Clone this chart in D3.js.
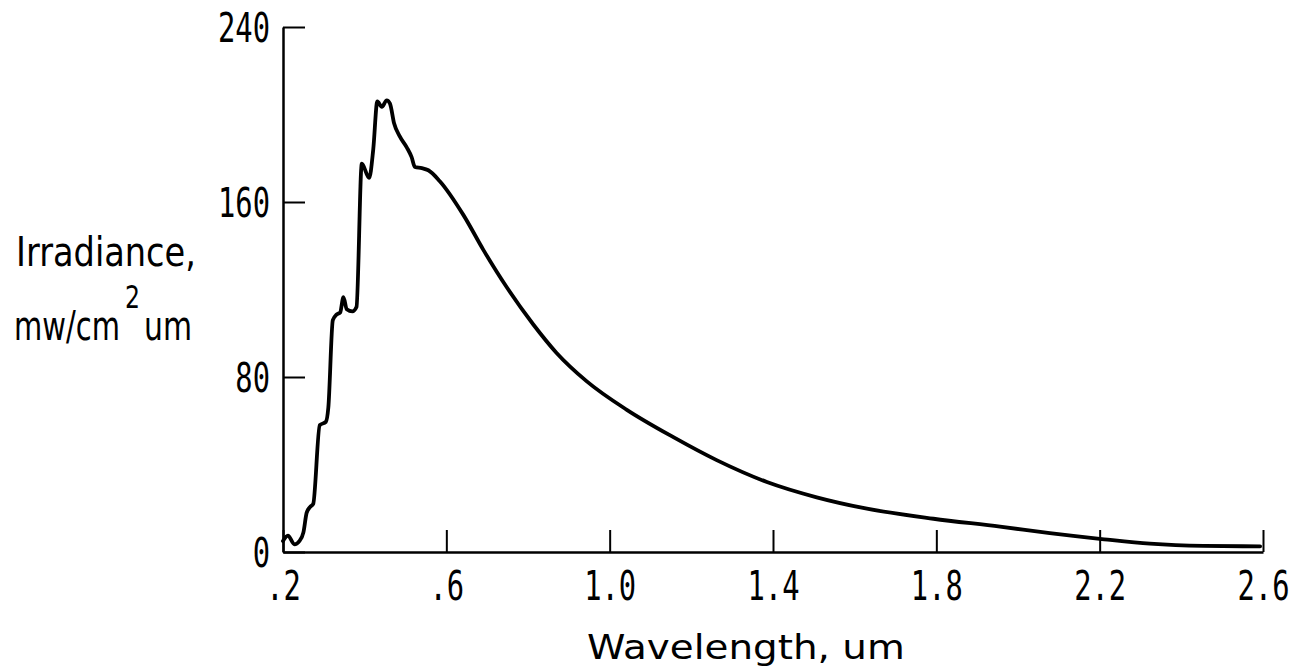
<!DOCTYPE html>
<html>
<head>
<meta charset="utf-8">
<script src="https://cdn.jsdelivr.net/npm/d3@7"></script>
<style>
  body { margin: 0; background: #fff; }
  svg { display: block; }
</style>
</head>
<body>
<div id="chart"></div>
<script>
///////////////////////////////////////////////////////////////////////////
///////////////////////////////// Data ////////////////////////////////////
///////////////////////////////////////////////////////////////////////////

// wavelength in um
var wavelength = [0.200, 0.212, 0.228, 0.240, 0.250, 0.258, 0.266, 0.274, 0.290, 0.305,
  0.311, 0.322, 0.331, 0.340, 0.348, 0.356, 0.370, 0.380, 0.393, 0.411,
  0.421, 0.431, 0.442, 0.454, 0.462, 0.472, 0.486, 0.503, 0.515, 0.523,
  0.540, 0.556, 0.584, 0.642, 0.691, 0.748, 0.813, 0.870, 0.944, 1.042,
  1.156, 1.262, 1.385, 1.507, 1.630, 1.793, 1.956, 2.078, 2.211, 2.323,
  2.454, 2.593]

// irradiance in mw/cm^2 um
var irradiance = [5, 7.5, 3.5, 5, 9, 18, 20.5, 22, 58, 59.5,
  66, 106, 108.5, 109.5, 116.5, 111, 110, 112, 177.5, 171,
  184, 206, 203.5, 206.5, 205, 196, 190, 185, 180.5, 176,
  175.5, 174.5, 169.5, 154, 138, 121, 104, 91, 78, 65,
  52.5, 42, 32, 25, 19.8, 15.2, 11.6, 8.6, 5.8, 3.8,
  2.8, 2.6]

var xTicks = [0.2, 0.6, 1.0, 1.4, 1.8, 2.2, 2.6]
var xTickLabels = [".2", ".6", "1.0", "1.4", "1.8", "2.2", "2.6"]
var yTicks = [0, 80, 160, 240]
var yTickLabels = ["0", "80", "160", "240"]

///////////////////////////////////////////////////////////////////////////
//////////////////// Set up and initiate containers ///////////////////////
///////////////////////////////////////////////////////////////////////////

var totalWidth = 1309
var totalHeight = 670

var svg = d3.select('#chart').append('svg')
  .attr('width', totalWidth)
  .attr('height', totalHeight)

svg.append('rect')
  .attr('width', totalWidth)
  .attr('height', totalHeight)
  .attr('fill', '#fff')

var numFont = "'DejaVu Sans Mono', monospace"
var textFont = "'DejaVu Sans', sans-serif"
var squeeze = 0.72 // condensed typewriter look of the numerals

///////////////////////////////////////////////////////////////////////////
///////////////////////////// Create scales ///////////////////////////////
///////////////////////////////////////////////////////////////////////////

var xScale = d3.scaleLinear()
  .domain([0.2, 2.6])
  .range([283, 1263])

var yScale = d3.scaleLinear()
  .domain([0, 240])
  .range([552, 27])

///////////////////////////////////////////////////////////////////////////
/////////////////////////////// Axes //////////////////////////////////////
///////////////////////////////////////////////////////////////////////////

var xAxis = d3.axisBottom(xScale)
  .tickValues(xTicks)
  .tickSizeInner(-22)
  .tickSizeOuter(0)
  .tickFormat(function(d, i) { return xTickLabels[i] })

var yAxis = d3.axisLeft(yScale)
  .tickValues(yTicks)
  .tickSizeInner(-22)
  .tickSizeOuter(0)
  .tickFormat(function(d, i) { return yTickLabels[i] })

var gx = svg.append('g')
  .attr('transform', 'translate(0,' + yScale(0) + ')')
  .call(xAxis)

var gy = svg.append('g')
  .attr('transform', 'translate(' + xScale(0.2) + ',0)')
  .call(yAxis)

gx.select('.domain').attr('stroke', '#000').attr('stroke-width', 2.5)
gy.select('.domain').attr('stroke', '#000').attr('stroke-width', 2.5)
gx.selectAll('.tick line').attr('stroke', '#000').attr('stroke-width', 2)
gy.selectAll('.tick line').attr('stroke', '#000').attr('stroke-width', 2)

gx.selectAll('.tick text')
  .attr('font-family', numFont)
  .attr('font-size', 40)
  .attr('fill', '#000')
  .attr('y', 0)
  .attr('dy', 0)
  .attr('transform', 'translate(0,48) scale(' + squeeze + ',1)')

gy.selectAll('.tick text')
  .attr('font-family', numFont)
  .attr('font-size', 40)
  .attr('fill', '#000')
  .attr('x', 0)
  .attr('dy', '0.36em')
  .attr('transform', 'translate(-13,0) scale(' + squeeze + ',1)')

///////////////////////////////////////////////////////////////////////////
/////////////////////////////// Curve /////////////////////////////////////
///////////////////////////////////////////////////////////////////////////

var points = wavelength.map(function(w, i) { return [w, irradiance[i]] })

var line = d3.line()
  .x(function(d) { return xScale(d[0]) })
  .y(function(d) { return yScale(d[1]) })
  .curve(d3.curveMonotoneX)

svg.append('path')
  .datum(points)
  .attr('d', line)
  .attr('fill', 'none')
  .attr('stroke', '#000')
  .attr('stroke-width', 3.8)
  .attr('stroke-linejoin', 'round')
  .attr('stroke-linecap', 'round')

///////////////////////////////////////////////////////////////////////////
//////////////////////////// Axis titles //////////////////////////////////
///////////////////////////////////////////////////////////////////////////

// squeeze a text horizontally so it spans the given width
function fitText(str, x, y, size, width) {
  var t = svg.append('text')
    .attr('font-family', textFont)
    .attr('font-size', size)
    .attr('fill', '#000')
    .text(str)
  var len = t.node().getComputedTextLength()
  t.attr('transform', 'translate(' + x + ',' + y + ') scale(' + (width / len) + ',1)')
  return t
}

fitText('Irradiance,', 16, 266, 40, 180)

// unit line: base text, raised 2, then the rest
fitText('mw/cm', 14, 340, 40, 106)
fitText('2', 125, 308, 32, 15)
fitText('um', 144, 340, 40, 48)

fitText('Wavelength, um', 587, 659, 33, 318)
</script>
</body>
</html>
